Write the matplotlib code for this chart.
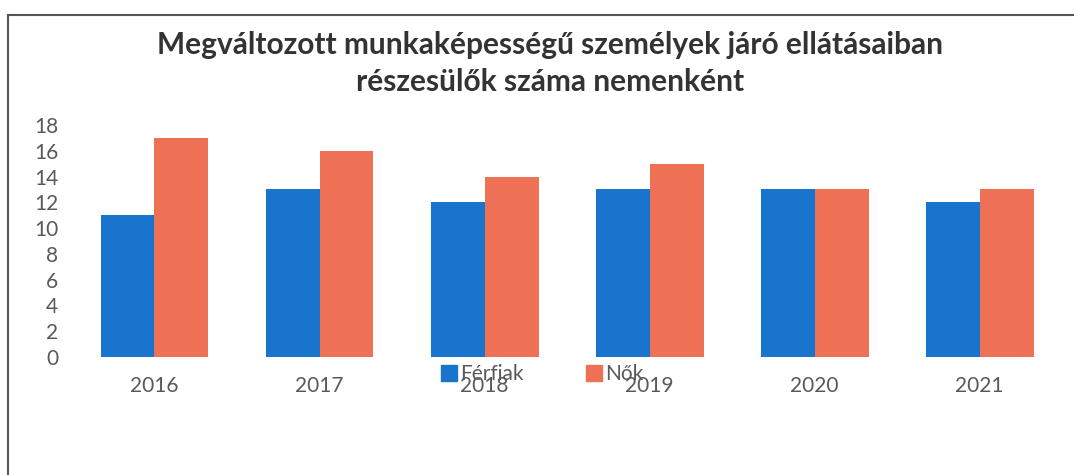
import numpy as np
import matplotlib.pyplot as plt
from matplotlib.lines import Line2D
from matplotlib.patches import Patch

years = ['2016', '2017', '2018', '2019', '2020', '2021']
ferfiak = [11, 13, 12, 13, 13, 12]
nok = [17, 16, 14, 15, 13, 13]

blue = '#1874cd'
orange = '#ef7155'
gray = '#595959'

plt.rcParams['font.family'] = ['Lato', 'DejaVu Sans']

fig = plt.figure(figsize=(10.74, 4.75), dpi=100)
ax = fig.add_axes([0.067, 0.2484, 0.922, 0.4884])

x = np.arange(len(years))
w = 0.327
ax.bar(x - w / 2, ferfiak, w, color=blue, label='Férfiak')
ax.bar(x + w / 2, nok, w, color=orange, label='Nők')

ax.set_xlim(-0.5, len(years) - 0.5)
ax.set_ylim(0, 18)
ax.set_yticks(range(0, 19, 2))
ax.set_xticks(x)
ax.set_xticklabels(years)
ax.tick_params(axis='both', length=0, labelsize=15, labelcolor=gray)
ax.tick_params(axis='x', pad=14)
ax.tick_params(axis='y', pad=10)
for s in ax.spines.values():
    s.set_visible(False)

fig.text(0.512, 0.905, 'Megváltozott munkaképességű személyek járó ellátásaiban',
         ha='center', va='center', fontsize=21.5, fontweight='bold', color='#333333')
fig.text(0.512, 0.827, 'részesülők száma nemenként',
         ha='center', va='center', fontsize=21.5, fontweight='bold', color='#333333')

handles = [Patch(color=blue), Patch(color=orange)]
fig.legend(handles, ['Férfiak', 'Nők'], loc='center', bbox_to_anchor=(0.505, 0.212),
           ncol=2, frameon=False, fontsize=15, handlelength=0.75, handleheight=0.75,
           handletextpad=0.15, columnspacing=3.0, labelcolor=gray)

# frame lines along the top and left edge
fig.add_artist(Line2D([8 / 1074, 1], [1 - 15 / 475, 1 - 15 / 475], color='#555555', lw=1.5))
fig.add_artist(Line2D([8 / 1074, 8 / 1074], [0, 1 - 15 / 475], color='#555555', lw=1.5))

fig.savefig('out.png', dpi=100)
